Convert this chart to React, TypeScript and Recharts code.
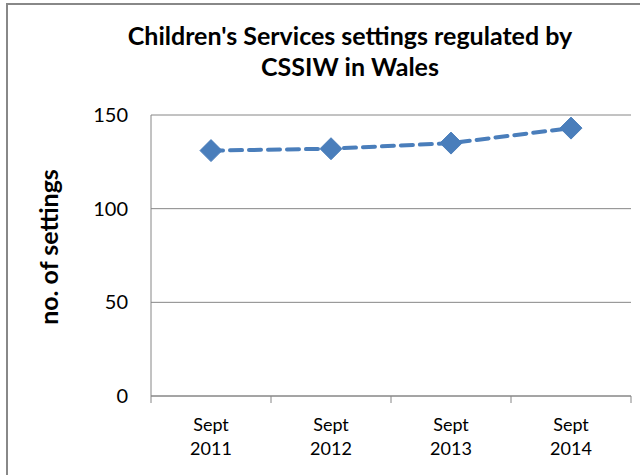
import { LineChart, Line, XAxis, YAxis, CartesianGrid } from 'recharts';

const categories = ['Sept 2011', 'Sept 2012', 'Sept 2013', 'Sept 2014'];
const settings = [131, 132, 135, 143];
const yTicks = [0, 50, 100, 150];

const data = categories.map((name, i) => ({ name, settings: settings[i] }));

const FONT = 'Lato, "Open Sans", sans-serif';
const AXIS_GREY = '#868686';
const BLUE = '#4A7EBB';

// half the spacing between categories, used to put tick marks between them
const HALF_STEP = (631 - 151) / categories.length / 2;

const Diamond = (props: any) => {
  const { cx, cy } = props;
  if (cx == null || cy == null) return null;
  const r = 11;
  return (
    <polygon
      points={`${cx},${cy - r} ${cx + r},${cy} ${cx},${cy + r} ${cx - r},${cy}`}
      fill={BLUE}
      stroke={BLUE}
      strokeWidth={1}
    />
  );
};

const CategoryTick = (props: any) => {
  const { x, y, payload, index } = props;
  const [month, year] = String(payload.value).split(' ');
  const last = index === categories.length - 1;
  return (
    <g>
      <line x1={x - HALF_STEP} y1={y} x2={x - HALF_STEP} y2={y + 7} stroke={AXIS_GREY} />
      {last && <line x1={x + HALF_STEP} y1={y} x2={x + HALF_STEP} y2={y + 7} stroke={AXIS_GREY} />}
      <text x={x} y={y + 35} textAnchor="middle" fontSize={18} fontFamily={FONT} fill="#000">
        {month}
      </text>
      <text x={x} y={y + 59} textAnchor="middle" fontSize={18} fontFamily={FONT} fill="#000">
        {year}
      </text>
    </g>
  );
};

export default function App() {
  return (
    <div style={{ position: 'fixed', left: 0, top: 0, width: 640, height: 475, background: '#fff' }}>
      {/* outer chart frame */}
      <div
        style={{
          position: 'absolute',
          left: 6,
          top: 3,
          width: 640,
          height: 480,
          boxSizing: 'border-box',
          borderLeft: '2px solid #888888',
          borderTop: '2px solid #888888',
        }}
      />
      <div
        style={{
          position: 'absolute',
          left: 100,
          top: 20,
          width: 500,
          textAlign: 'center',
          fontFamily: FONT,
          fontWeight: 700,
          fontSize: 25,
          lineHeight: '31px',
          color: '#000',
        }}
      >
        Children's Services settings regulated by
        <br />
        CSSIW in Wales
      </div>
      <div
        style={{
          position: 'absolute',
          left: 48,
          top: 247,
          transform: 'translate(-50%, -50%) rotate(-90deg)',
          whiteSpace: 'nowrap',
          fontFamily: FONT,
          fontWeight: 700,
          fontSize: 25,
          color: '#000',
        }}
      >
        no. of settings
      </div>
      <div style={{ position: 'absolute', left: 0, top: 0 }}>
        <LineChart width={640} height={475} data={data} margin={{ top: 115, right: 9, bottom: 0, left: 0 }}>
          <CartesianGrid vertical={false} stroke={AXIS_GREY} strokeWidth={1} />
          <XAxis
            dataKey="name"
            padding={{ left: HALF_STEP, right: HALF_STEP }}
            axisLine={{ stroke: AXIS_GREY }}
            tickLine={false}
            tickSize={0}
            tickMargin={0}
            tick={<CategoryTick />}
            interval={0}
            height={79}
          />
          <YAxis
            width={151}
            domain={[0, 150]}
            ticks={yTicks}
            axisLine={{ stroke: AXIS_GREY }}
            tickLine={false}
            tickSize={0}
            tickMargin={23}
            tick={{ fill: '#000', fontSize: 20, fontFamily: FONT }}
          />
          <Line
            type="linear"
            dataKey="settings"
            stroke={BLUE}
            strokeWidth={4}
            strokeDasharray="12 7"
            strokeLinecap="round"
            dot={<Diamond />}
            activeDot={false}
            isAnimationActive={false}
          />
        </LineChart>
      </div>
    </div>
  );
}
